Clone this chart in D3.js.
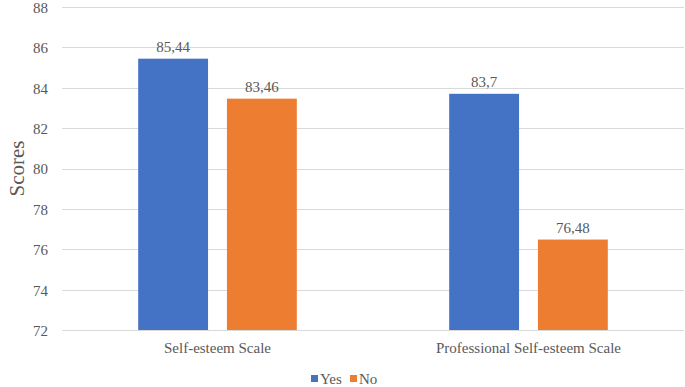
<!DOCTYPE html>
<html>
<head>
<meta charset="utf-8">
<script src="https://cdn.jsdelivr.net/npm/d3@7"></script>
<style>
  body { margin: 0; background: #fff; }
  svg text { font-family: "Liberation Serif", "Times New Roman", serif !important; }
</style>
</head>
<body>
<svg id="chart" width="685" height="387" style="font-family:'Liberation Serif'"></svg>
<script>
var w = 685;
var h = 387;

var categories = ["Self-esteem Scale", "Professional Self-esteem Scale"];
var seriesNames = ["Yes", "No"];
var yesValues = [85.44, 83.7];
var noValues = [83.46, 76.48];
var labelsYes = ["85,44", "83,7"];
var labelsNo = ["83,46", "76,48"];
var yTicks = [72, 74, 76, 78, 80, 82, 84, 86, 88];

var colors = ["#4472C4", "#ED7D31"];
var textColor = "#595959";

var margin = { top: 7, right: 1, bottom: 57, left: 62 };

var svg = d3.select("#chart");

var x0 = d3.scaleBand()
			.domain(categories)
			.range([margin.left, w - margin.right])
			.paddingInner(0.49)
			.paddingOuter(0.245);

var x1 = d3.scaleBand()
			.domain(seriesNames)
			.range([0, x0.bandwidth()])
			.paddingInner(0.213);

var y = d3.scaleLinear()
			.domain([72, 88])
			.range([h - margin.bottom, margin.top]);

function serif(sel, size) {
	sel.attr("style", "font-family:'Liberation Serif';font-size:" + size + "px")
		.attr("fill", textColor);
}

//gridlines
svg.append("g")
	.selectAll("line")
	.data(yTicks)
	.enter()
	.append("line")
	.attr("x1", margin.left)
	.attr("x2", w - margin.right)
	.attr("y1", function(d) { return Math.round(y(d)) + 0.5; })
	.attr("y2", function(d) { return Math.round(y(d)) + 0.5; })
	.attr("stroke", "#d9d9d9")
	.attr("stroke-width", 1);

//y axis labels
var yAxis = d3.axisLeft(y)
			.tickValues(yTicks)
			.tickSize(0)
			.tickPadding(14);

var gy = svg.append("g")
	.attr("transform", "translate(" + margin.left + ",0)")
	.call(yAxis);
gy.attr("font-family", null).attr("font-size", null);
gy.select(".domain").remove();
gy.selectAll("text").attr("dy", "0.36em").call(serif, 15);

//bars
var data = categories.map(function(c, i) {
	return { cat: c, vals: [
		{ s: "Yes", v: yesValues[i], label: labelsYes[i] },
		{ s: "No", v: noValues[i], label: labelsNo[i] }
	]};
});

var groups = svg.selectAll("g.group")
				.data(data)
				.enter()
				.append("g")
				.attr("class", "group")
				.attr("transform", function(d) { return "translate(" + x0(d.cat) + ",0)"; });

groups.selectAll("rect")
	.data(function(d) { return d.vals; })
	.enter()
	.append("rect")
	.attr("x", function(d) { return x1(d.s); })
	.attr("y", function(d) { return y(d.v); })
	.attr("width", x1.bandwidth())
	.attr("height", function(d) { return y(72) - y(d.v); })
	.attr("fill", function(d, i) { return colors[i]; });

groups.selectAll("text.val")
	.data(function(d) { return d.vals; })
	.enter()
	.append("text")
	.attr("class", "val")
	.attr("x", function(d) { return x1(d.s) + x1.bandwidth() / 2; })
	.attr("y", function(d) { return y(d.v) - 7; })
	.attr("text-anchor", "middle")
	.call(serif, 15)
	.text(function(d) { return d.label; });

//x axis line
svg.append("line")
	.attr("x1", margin.left)
	.attr("x2", w - margin.right)
	.attr("y1", Math.round(y(72)) + 0.5)
	.attr("y2", Math.round(y(72)) + 0.5)
	.attr("stroke", "#d9d9d9");

//category labels
svg.selectAll("text.cat")
	.data(categories)
	.enter()
	.append("text")
	.attr("class", "cat")
	.attr("x", function(d) { return x0(d) + x0.bandwidth() / 2; })
	.attr("y", y(72) + 23)
	.attr("text-anchor", "middle")
	.call(serif, 15)
	.text(function(d) { return d; });

//y title
svg.append("text")
	.attr("transform", "translate(24," + ((margin.top + y(72)) / 2) + ") rotate(-90)")
	.attr("text-anchor", "middle")
	.call(serif, 21)
	.text("Scores");

//legend
var legend = svg.append("g")
	.attr("transform", "translate(311,372)");

var legendItems = legend.selectAll("g")
	.data(seriesNames)
	.enter()
	.append("g")
	.attr("transform", function(d, i) { return "translate(" + (i * 39) + ",0)"; });

legendItems.append("rect")
	.attr("width", 7)
	.attr("height", 7)
	.attr("y", 3)
	.attr("fill", function(d, i) { return colors[i]; });

legendItems.append("text")
	.attr("x", 9)
	.attr("y", 12)
	.call(serif, 15)
	.text(function(d) { return d; });
</script>
</body>
</html>
